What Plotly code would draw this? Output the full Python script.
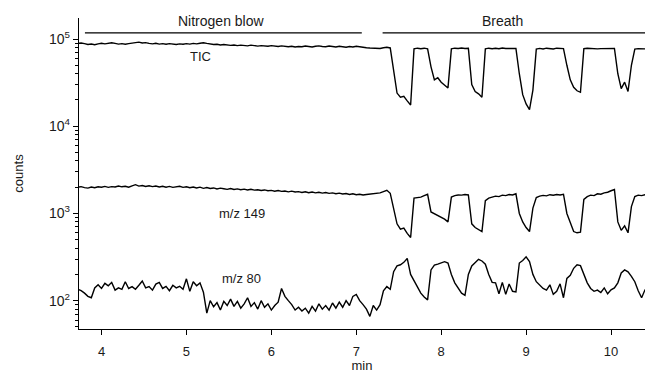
import numpy as np
import plotly.graph_objects as go

# sampling grid (min)
t_start = 3.72
t_step = 0.04

tic = [
    89000, 90000, 88500, 86500, 87500, 86000, 88000, 89500, 88000, 89000,
    90500, 89000, 87500, 88500, 87000, 88500, 90000, 91500, 92000, 90000,
    91000, 89000, 88000, 89500, 87500, 88500, 87000, 88500, 87500, 86500,
    88000, 87000, 88500, 87500, 89000, 88000, 89500, 90500, 89000, 87500,
    86500, 87000, 85500, 86500, 85000, 84500, 85500, 84000, 85000, 84500,
    83500, 85000, 84000, 83000, 84000, 83500, 82500, 84000, 83000, 82000,
    83500, 82500, 81500, 82500, 81000, 82000, 81500, 83000, 82000, 81000,
    82500, 83500, 82000, 81500, 83000, 82000, 81000, 82500, 81500, 80500,
    82000, 81000, 82500, 81000, 80000, 79500, 79000, 78500, 79000, 78000,
    79500, 80500, 79000, 45000, 24000, 21500, 22000, 19500, 17500, 77000,
    78500, 77500, 78500, 77000, 48000, 34000, 36000, 32000, 30000, 27500,
    77000, 78500, 78000, 79000, 78000, 78500, 30000, 25000, 23500, 21500,
    77000, 78500, 77500, 78500, 77500, 79000, 78000, 78500, 77500, 78000,
    40000, 23000, 18000, 15500, 26000, 76500, 78000, 77000, 78500, 78000,
    77000, 78500, 78000, 77500, 50000, 34000, 28000, 25500, 24500, 77500,
    78500, 77500, 78000, 77000, 77500, 78000, 77500, 78500, 78000, 40000,
    27000, 32000, 25000, 50000, 76500, 77500, 76500, 77000, 77000, 77000,
]

mz149 = [
    2000, 2030, 1980, 1950, 2010, 1970, 2020, 2000, 2040, 1990,
    2030, 2010, 2060, 2020, 2050, 2000, 2070, 2140, 2060, 2090,
    2040, 2080, 2030, 2060, 2010, 2050, 2000, 2040, 1990, 2020,
    2050, 1990, 2020, 1970, 2010, 1960, 2000, 1940, 1980, 1930,
    1960, 1910, 1950, 1920, 1890, 1930, 1880, 1910, 1870, 1900,
    1860, 1890, 1850, 1870, 1830, 1860, 1820, 1840, 1800, 1830,
    1790, 1810, 1770, 1800, 1760, 1780, 1740, 1770, 1730, 1760,
    1720, 1750, 1710, 1740, 1700, 1720, 1680, 1710, 1670, 1690,
    1650, 1680, 1640, 1660, 1630, 1650, 1670, 1680, 1700, 1720,
    1780, 1840, 1700, 1100, 760, 660, 680, 590, 530, 1500,
    1520, 1540, 1600, 1660, 1040, 990, 950, 900, 860, 800,
    1540, 1600, 1630, 1620, 1650, 1630, 760, 690, 650, 620,
    1400, 1500, 1540, 1580, 1560, 1620, 1600, 1650, 1630, 1680,
    1000, 800, 690, 620, 1150, 1520, 1580, 1610, 1590, 1640,
    1620, 1650, 1630, 1660, 1000, 790, 620, 600, 610, 1450,
    1560, 1620, 1600, 1680, 1660, 1720, 1750, 1820, 1880, 800,
    640, 720, 600, 1200, 1560, 1620, 1600, 1640, 1640, 1640,
]

mz80 = [
    135, 130, 122, 112, 108, 140, 152, 138, 158, 148,
    162, 132, 140, 135, 165, 138, 145, 135, 150, 168,
    140, 145, 132, 155, 162, 138, 146, 130, 150, 140,
    146, 135, 178, 128, 165, 148, 160, 125, 72, 100,
    85, 95, 78, 98, 88, 104, 86, 98, 82, 92,
    108, 86, 95, 80, 100, 84, 92, 78, 88, 96,
    138, 112, 100, 90, 78, 84, 76, 82, 72, 86,
    76, 92, 80, 88, 78, 94, 82, 96, 84, 100,
    88, 112, 118, 100, 90, 80, 66, 88, 78, 90,
    130, 145, 135, 215, 250, 258, 275, 305, 200, 168,
    140, 122, 110, 102, 225, 255, 262, 272, 280, 270,
    200, 160, 140, 122, 115, 200, 250, 272, 298, 285,
    262, 200, 162, 160, 120, 162, 118, 155, 128, 126,
    270, 288, 318, 280, 200, 165, 150, 138, 132, 152,
    118, 128, 156, 108, 180, 195, 235, 258, 252, 205,
    160, 138, 128, 132, 124, 140, 120, 133, 140, 160,
    208, 225, 214, 190, 165, 130, 108, 133, 135, 135,
]

time = t_start + t_step * np.arange(len(tic))

ytick_vals = [100, 1000, 10000, 100000]
ytick_text = ["10<sup>2</sup>", "10<sup>3</sup>", "10<sup>4</sup>", "10<sup>5</sup>"]
minor_vals = [m * d for d in (10, 100, 1000, 10000) for m in range(2, 10)] + [50, 60, 70, 80, 90]
xtick_vals = [4, 5, 6, 7, 8, 9, 10]

font_family = "Liberation Sans, Arial, sans-serif"
line_style = dict(color="black", width=1.4)

fig = go.Figure()
for series in (tic, mz149, mz80):
    fig.add_trace(go.Scatter(x=time, y=series, mode="lines", line=line_style,
                             showlegend=False, hoverinfo="skip"))

fig.update_layout(
    width=645, height=373,
    margin=dict(l=79, r=0, t=18, b=44),
    paper_bgcolor="white", plot_bgcolor="white",
    font=dict(family=font_family, size=13, color="#1a1a1a"),
    xaxis=dict(
        range=[3.735, 10.40], tickvals=xtick_vals, ticks="outside", ticklen=5,
        tickwidth=1.3, tickcolor="black", showline=True, linecolor="black", linewidth=1.3,
        showgrid=False, zeroline=False, tickfont=dict(size=13), ticklabelstandoff=5,
        title=dict(text="min", standoff=2, font=dict(size=13)),
    ),
    yaxis=dict(
        type="log", range=[1.675, 5.241], tickvals=ytick_vals, ticktext=ytick_text,
        ticks="outside", ticklen=5, tickwidth=1.3, tickcolor="black",
        showline=True, linecolor="black", linewidth=1.3, showgrid=False, zeroline=False,
        tickfont=dict(size=14),
        minor=dict(tickvals=minor_vals, ticks="outside", ticklen=3, tickwidth=1,
                   tickcolor="black", showgrid=False),
        title=dict(text="counts", standoff=22, font=dict(size=13)),
    ),
)

# phase bars and labels
phases = [("Nitrogen blow", 3.805, 7.065, 5.41), ("Breath", 7.31, 10.40, 8.72)]
for label, x0, x1, xc in phases:
    fig.add_shape(type="line", xref="x", yref="paper", x0=x0, x1=x1, y0=0.952, y1=0.952,
                  line=dict(color="black", width=1.3))
    fig.add_annotation(text=label, xref="x", yref="paper", x=xc, y=0.99, yanchor="middle",
                       showarrow=False, font=dict(size=14, color="#1a1a1a"))

trace_labels = [("TIC", 5.16, 0.875), ("m/z 149", 5.66, 0.370), ("m/z 80", 5.65, 0.161)]
for label, x, y in trace_labels:
    fig.add_annotation(text=label, xref="x", yref="paper", x=x, y=y, yanchor="middle",
                       showarrow=False, font=dict(size=13, color="#1a1a1a"))

fig.write_html("out.html", config={"displayModeBar": False},
               post_script="document.body.style.margin='0';")
